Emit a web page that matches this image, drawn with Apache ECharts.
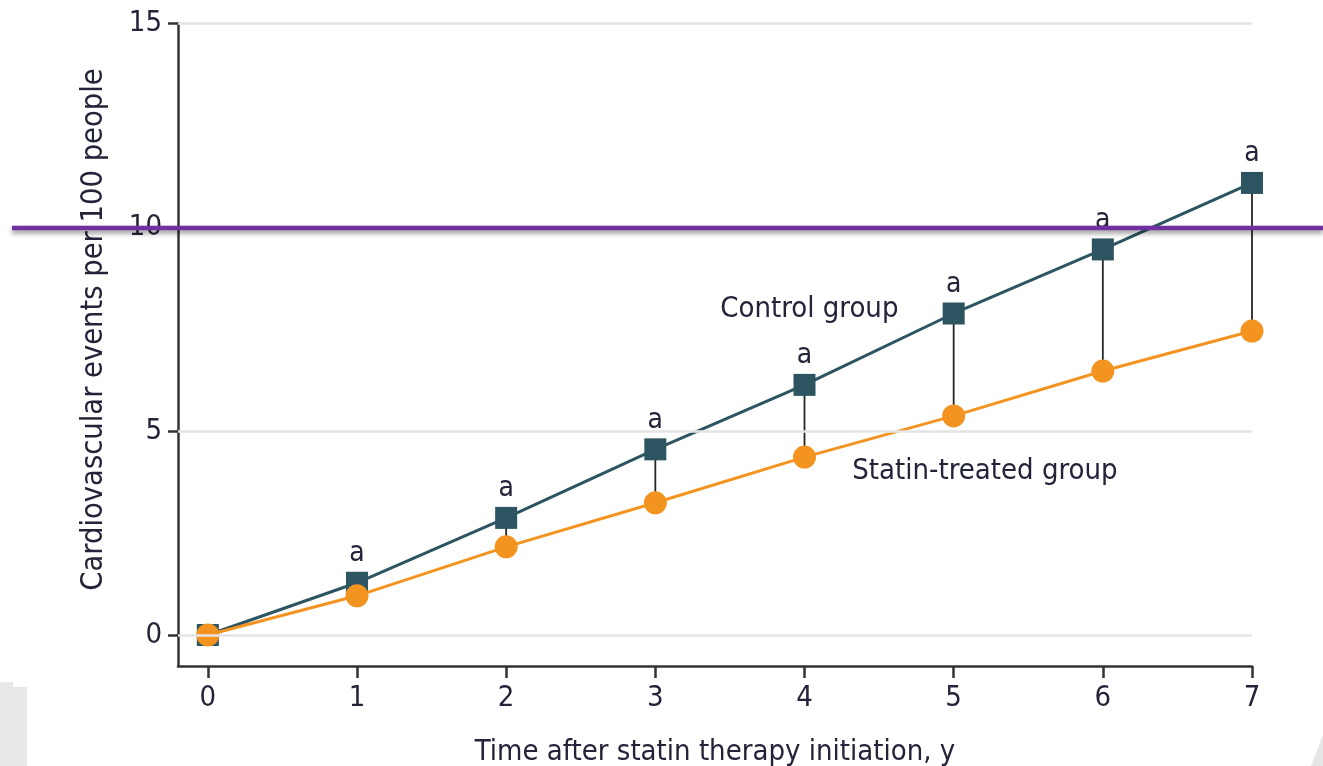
<!DOCTYPE html>
<html>
<head>
<meta charset="utf-8">
<script src="https://cdn.jsdelivr.net/npm/echarts@6/dist/echarts.min.js"></script>
<style>
  html, body { margin: 0; padding: 0; background: #fff; }
  #chart { width: 1323px; height: 766px; }
</style>
</head>
<body>
<div id="chart"></div>
<script>
// Years since statin initiation
const years = [0, 1, 2, 3, 4, 5, 6, 7];
// Cumulative cardiovascular events per 100 people
const controlRate = [0, 1.28, 2.87, 4.55, 6.13, 7.88, 9.45, 11.08];
const statinRate = [0, 0.96, 2.16, 3.24, 4.36, 5.37, 6.47, 7.45];
// Significance marks shown above the control group points
const sigMarks = ['', 'a', 'a', 'a', 'a', 'a', 'a', 'a'];
const yTicks = [0, 5, 10, 15];
const xTicks = [0, 1, 2, 3, 4, 5, 6, 7];
const seriesNames = ['Control group', 'Statin-treated group'];

const FONT = "'Liberation Sans Narrow', 'DejaVu Sans Condensed', 'Liberation Sans', sans-serif";
const TEXT = '#23233a';
const CONTROL = '#2d5561';
const STATIN = '#f39421';

const chart = echarts.init(document.getElementById('chart'));

const controlData = years.map((x, i) => [x, controlRate[i]]);
const statinData = years.map((x, i) => [x, statinRate[i]]);
const connectorData = years.slice(1).map((x, i) => [x, controlRate[i + 1], statinRate[i + 1]]);

chart.setOption({
  animation: false,
  grid: { left: 178, right: 71, top: 23, bottom: 100, outerBoundsMode: 'none', containLabel: false },
  xAxis: {
    type: 'value',
    min: -0.2,
    max: 7,
    name: 'Time after statin therapy initiation, y',
    nameLocation: 'middle',
    nameGap: 72,
    nameTextStyle: { fontFamily: FONT, fontSize: 29, color: TEXT },
    axisLine: { show: true, onZero: false, lineStyle: { color: '#333', width: 2.5 } },
    axisTick: { show: true, length: 12, customValues: xTicks, lineStyle: { color: '#333', width: 2.5 } },
    axisLabel: { customValues: xTicks, fontFamily: FONT, fontSize: 29, color: TEXT, margin: 18 },
    splitLine: { show: false }
  },
  yAxis: {
    type: 'value',
    min: -0.76,
    max: 15,
    name: 'Cardiovascular events per 100 people',
    nameLocation: 'middle',
    nameGap: 68,
    nameTextStyle: { fontFamily: FONT, fontSize: 30.5, color: TEXT, padding: [0, 0, 0, 30] },
    axisLine: { show: true, onZero: false, lineStyle: { color: '#333', width: 2.5 } },
    axisTick: { show: true, length: 10, customValues: yTicks, lineStyle: { color: '#333', width: 2.5 } },
    axisLabel: { customValues: yTicks, fontFamily: FONT, fontSize: 29, color: TEXT, margin: 16 },
    splitLine: { show: false }
  },
  series: [
    {
      // vertical connectors between paired group values, plus horizontal reference lines
      type: 'custom',
      z: 1,
      data: connectorData,
      renderItem: function (params, api) {
        const top = api.coord([api.value(0), api.value(1)]);
        const bot = api.coord([api.value(0), api.value(2)]);
        return {
          type: 'line',
          shape: { x1: top[0], y1: top[1], x2: bot[0], y2: bot[1] },
          style: { stroke: '#262626', lineWidth: 1.8 }
        };
      },
      markLine: {
        silent: true,
        symbol: 'none',
        label: { show: false },
        lineStyle: { color: '#e4e4e4', width: 2.5, type: 'solid' },
        data: yTicks.map(v => ({ yAxis: v }))
      }
    },
    {
      name: seriesNames[0],
      type: 'line',
      z: 3,
      data: controlData,
      symbol: 'rect',
      symbolSize: 22,
      itemStyle: { color: CONTROL },
      lineStyle: { color: CONTROL, width: 3 },
      label: {
        show: true,
        position: 'top',
        distance: 4,
        fontFamily: FONT,
        fontSize: 28,
        color: TEXT,
        formatter: p => sigMarks[p.dataIndex]
      }
    },
    {
      name: seriesNames[1],
      type: 'line',
      z: 4,
      data: statinData,
      symbol: 'circle',
      symbolSize: 23,
      itemStyle: { color: STATIN },
      lineStyle: { color: STATIN, width: 3 }
    }
  ]
});

// Group names placed beside their lines, and the highlighted level at 10 events
const ctrlPos = chart.convertToPixel({ seriesIndex: 1 }, [4.63, 7.97]);
const statPos = chart.convertToPixel({ seriesIndex: 1 }, [4.32, 4.0]);
const y10 = chart.convertToPixel({ yAxisIndex: 0 }, 10);

chart.setOption({
  graphic: [
    {
      type: 'text', x: ctrlPos[0], y: ctrlPos[1],
      style: { text: seriesNames[0], font: '29px ' + FONT, fill: TEXT, align: 'right', verticalAlign: 'middle' }
    },
    {
      type: 'text', x: statPos[0], y: statPos[1],
      style: { text: seriesNames[1], font: '29px ' + FONT, fill: TEXT, align: 'left', verticalAlign: 'middle' }
    },
    {
      type: 'line', z: 100,
      shape: { x1: 12, y1: y10 + 1, x2: 1323, y2: y10 + 1 },
      style: { stroke: '#7030a0', lineWidth: 4.5, shadowColor: 'rgba(0,0,0,0.45)', shadowBlur: 5, shadowOffsetY: 3 }
    },
    {
      type: 'polygon', z: 0,
      shape: { points: [[0, 682], [13, 682], [13, 687], [27, 687], [27, 766], [0, 766]] },
      style: { fill: '#e8e8e8' }
    },
    {
      type: 'polygon', z: 0,
      shape: { points: [[1323, 735], [1323, 766], [1311, 766]] },
      style: { fill: '#e6e6e6' }
    }
  ]
});
</script>
</body>
</html>
